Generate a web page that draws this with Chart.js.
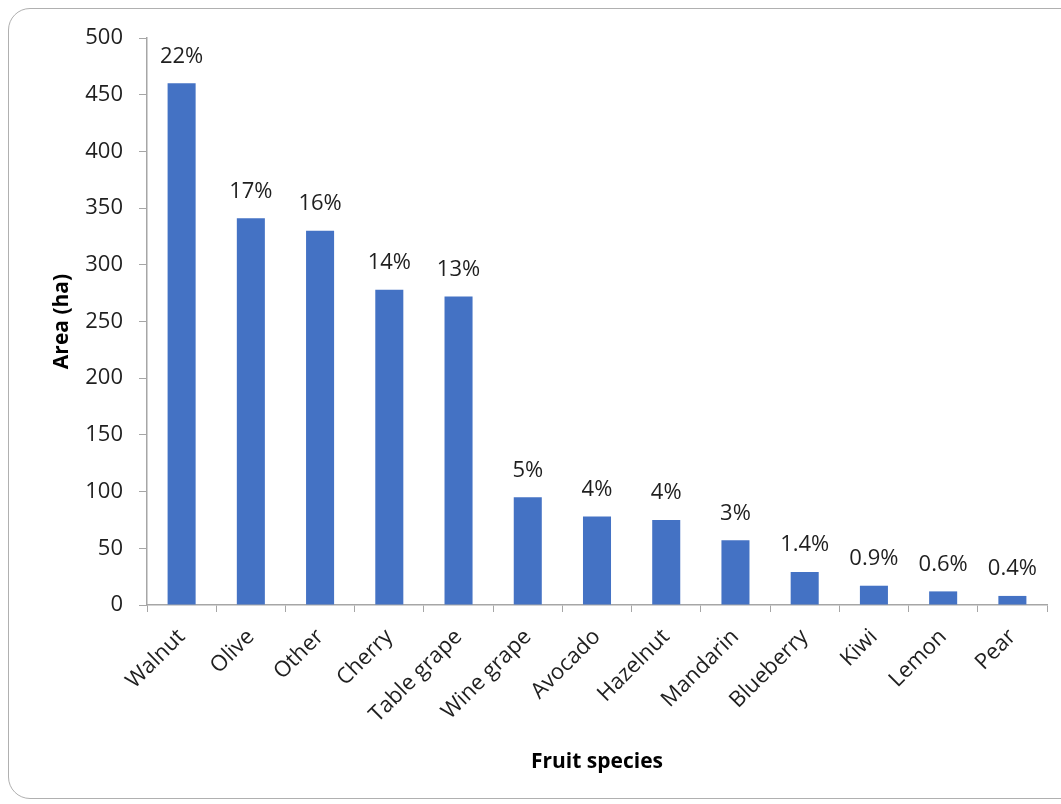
<!DOCTYPE html>
<html>
<head>
<meta charset="utf-8">
<script src="https://cdn.jsdelivr.net/npm/chart.js@4.4.0/dist/chart.umd.min.js"></script>
<style>
  html, body { margin: 0; padding: 0; background: #fff; overflow: hidden; }
  #frame {
    position: absolute; left: 8px; top: 8px; width: 1100px; height: 791px;
    border: 1.5px solid #b0b0b0; border-radius: 22px; box-sizing: border-box;
  }
  #wrap { position: absolute; left: 0; top: 0; width: 1061px; height: 804px; }
</style>
</head>
<body>
<div id="frame"></div>
<div id="wrap"><canvas id="barChart" width="1061" height="804"></canvas></div>
<script>
// fruit area per species (ha)
const species = ["Walnut", "Olive", "Other", "Cherry", "Table grape", "Wine grape",
  "Avocado", "Hazelnut", "Mandarin", "Blueberry", "Kiwi", "Lemon", "Pear"];
const areaHa = [460, 341, 330, 278, 272, 95, 78, 75, 57, 29, 17, 12, 8];
const shareLabels = ["22%", "17%", "16%", "14%", "13%", "5%", "4%", "4%", "3%",
  "1.4%", "0.9%", "0.6%", "0.4%"];
const yTicks = [0, 50, 100, 150, 200, 250, 300, 350, 400, 450, 500];

const textColor = '#1f1f1f';
const axisColor = '#a6a6a6';
const fontFamily = "'Open Sans', sans-serif";

// percent labels over each bar
const shareLabelPlugin = {
  id: 'shareLabels',
  afterDatasetsDraw(chart) {
    const ctx = chart.ctx;
    const bars = chart.getDatasetMeta(0).data;
    ctx.save();
    ctx.font = "22px " + fontFamily;
    ctx.fillStyle = textColor;
    ctx.textAlign = 'center';
    ctx.textBaseline = 'middle';
    bars.forEach((bar, i) => {
      ctx.fillText(shareLabels[i], bar.x, bar.y - 27);
    });
    ctx.restore();
  }
};

const canvas = document.querySelector("#barChart");

new Chart(canvas, {
  type: 'bar',
  data: {
    labels: species,
    datasets: [{
      label: "Area (ha)",
      data: areaHa,
      backgroundColor: '#4472C4',
      borderWidth: 0,
      categoryPercentage: 0.405,
      barPercentage: 1
    }]
  },
  options: {
    responsive: false,
    animation: false,
    layout: { padding: { left: 0, right: 14, top: 38, bottom: 0 } },
    plugins: {
      legend: { display: false },
      tooltip: { enabled: false }
    },
    scales: {
      x: {
        grid: { display: true, drawOnChartArea: false, offset: true, color: axisColor, tickLength: 7 },
        border: { color: axisColor, width: 1.5 },
        ticks: {
          color: textColor, font: { family: fontFamily, size: 22 },
          maxRotation: 45, minRotation: 45, padding: 12, autoSkip: false
        },
        title: {
          display: true, text: "Fruit species", color: '#000',
          font: { family: fontFamily, size: 21, weight: 'bold' },
          padding: { top: 0, bottom: 29 }
        },
        afterFit(scale) { scale.height = 804 - 605; }
      },
      y: {
        min: 0, max: 500,
        afterBuildTicks(scale) { scale.ticks = yTicks.map(v => ({ value: v })); },
        grid: { display: true, drawOnChartArea: false, color: axisColor, tickLength: 8 },
        border: { color: axisColor, width: 1.5 },
        ticks: { color: textColor, font: { family: fontFamily, size: 22 }, padding: 16 },
        title: {
          display: true, text: "Area (ha)", color: '#000',
          font: { family: fontFamily, size: 21, weight: 'bold' },
          padding: { top: 49, bottom: 0 }
        },
        afterFit(scale) { scale.width = 147; }
      }
    }
  },
  plugins: [shareLabelPlugin]
});
</script>
</body>
</html>
